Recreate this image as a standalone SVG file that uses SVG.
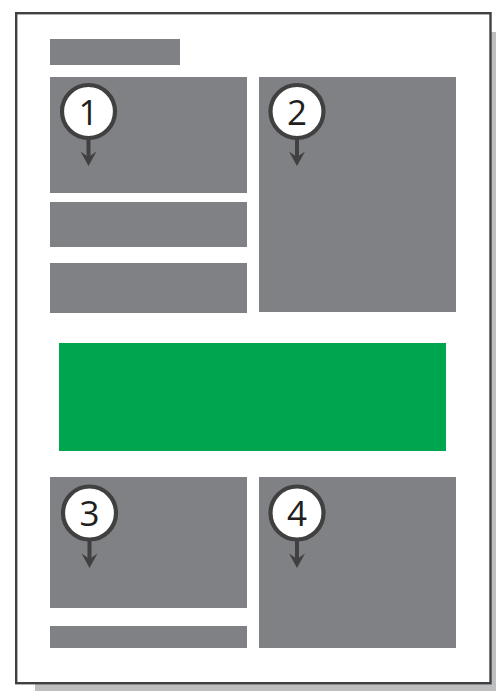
<svg xmlns="http://www.w3.org/2000/svg" width="496" height="691" viewBox="0 0 496 691">
<defs>
<style>
.blk{fill:#808184}
.mk circle{fill:#ffffff;stroke:#404041;stroke-width:4.2}
.mk text{font-family:"Open Sans","Noto Sans",sans-serif;font-size:35px;fill:#231f20;text-anchor:middle}
.stem{stroke:#404041;stroke-width:4;fill:none}
.head{fill:#404041}
</style>
</defs>
<rect id="shadow" x="35" y="32" width="461" height="659" fill="#bcbec0"/>
<rect id="page" x="16.2" y="13.2" width="474.3" height="670" fill="#ffffff" stroke="#404041" stroke-width="2.4"/>
<g id="title"><rect class="blk" x="50" y="39" width="130" height="26"/></g>
<g id="block1"><rect class="blk" x="50" y="77" width="197" height="116"/></g>
<g id="bar1"><rect class="blk" x="50" y="202" width="197" height="45"/></g>
<g id="bar2"><rect class="blk" x="50" y="263" width="197" height="50"/></g>
<g id="block2"><rect class="blk" x="259" y="77" width="197" height="235"/></g>
<g id="green"><rect x="59" y="343" width="387" height="108" fill="#00a54f"/></g>
<g id="block3"><rect class="blk" x="50" y="477" width="197" height="131"/></g>
<g id="bar3"><rect class="blk" x="50" y="626" width="197" height="22"/></g>
<g id="block4"><rect class="blk" x="259" y="477" width="197" height="171"/></g>
<g id="connectors">
<path class="stem" d="M88.5,138 V158 M297,138 V158 M89.5,540 V560 M297,540 V560"/>
<path class="head" d="M88.5,166 L80.5,151.5 L88.5,157 L96.5,151.5 Z"/>
<path class="head" d="M297,166 L289,151.5 L297,157 L305,151.5 Z"/>
<path class="head" d="M89.5,568 L81.5,553.5 L89.5,559 L97.5,553.5 Z"/>
<path class="head" d="M297,568 L289,553.5 L297,559 L305,553.5 Z"/>
</g>
<g id="marker1" class="mk"><circle cx="88.5" cy="111.5" r="26.5"/><text x="88.5" y="124.5">1</text></g>
<g id="marker2" class="mk"><circle cx="297" cy="111.5" r="26.5"/><text x="297" y="124.5">2</text></g>
<g id="marker3" class="mk"><circle cx="89.5" cy="513" r="26.5"/><text x="89.5" y="526">3</text></g>
<g id="marker4" class="mk"><circle cx="297" cy="513" r="26.5"/><text x="297" y="526">4</text></g>
</svg>
